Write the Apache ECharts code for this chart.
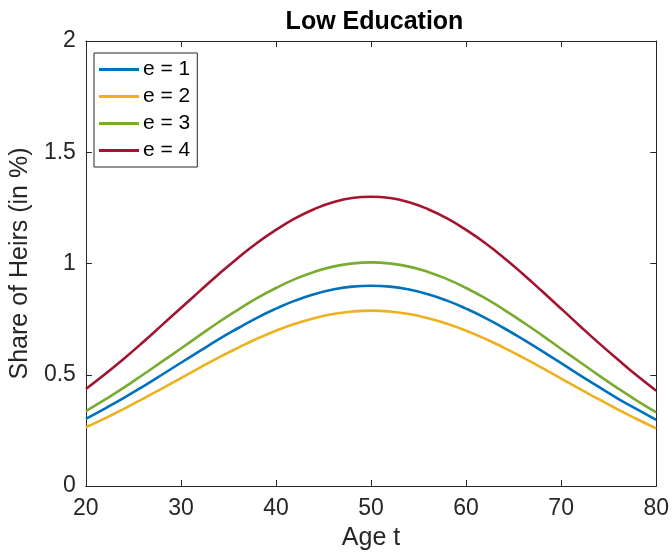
<!DOCTYPE html>
<html>
<head>
<meta charset="utf-8">
<script src="https://cdn.jsdelivr.net/npm/echarts@6/dist/echarts.min.js"></script>
<style>
  html, body { margin: 0; padding: 0; background: #fff; }
  #chart { width: 672px; height: 557px; }
</style>
</head>
<body>
<div id="chart"></div>
<script>
// values, every 2 years
const ages = [20, 22, 24, 26, 28, 30, 32, 34, 36, 38, 40, 42, 44, 46, 48, 50,
  52, 54, 56, 58, 60, 62, 64, 66, 68, 70, 72, 74, 76, 78, 80]

const e1 = [0.302, 0.348, 0.396, 0.447, 0.500, 0.554, 0.607, 0.660, 0.709, 0.756, 0.797, 0.833, 0.862, 0.883, 0.896, 0.900,
  0.896, 0.883, 0.862, 0.833, 0.797, 0.756, 0.709, 0.659, 0.606, 0.552, 0.497, 0.444, 0.392, 0.344, 0.297]
const e2 = [0.264, 0.304, 0.347, 0.392, 0.438, 0.485, 0.532, 0.578, 0.621, 0.662, 0.698, 0.729, 0.754, 0.773, 0.784, 0.788,
  0.784, 0.773, 0.754, 0.729, 0.698, 0.662, 0.621, 0.577, 0.531, 0.483, 0.435, 0.389, 0.343, 0.300, 0.259]
const e3 = [0.337, 0.388, 0.442, 0.500, 0.559, 0.618, 0.678, 0.737, 0.792, 0.844, 0.890, 0.930, 0.962, 0.986, 1.000, 1.005,
  1.000, 0.986, 0.962, 0.930, 0.890, 0.844, 0.792, 0.736, 0.677, 0.616, 0.556, 0.496, 0.438, 0.383, 0.331]
const e4 = [0.436, 0.502, 0.572, 0.646, 0.723, 0.800, 0.877, 0.953, 1.025, 1.092, 1.151, 1.203, 1.244, 1.275, 1.294, 1.300,
  1.294, 1.275, 1.244, 1.203, 1.151, 1.092, 1.025, 0.952, 0.875, 0.797, 0.718, 0.641, 0.567, 0.495, 0.428]

const seriesNames = ['e = 1', 'e = 2', 'e = 3', 'e = 4']
const seriesValues = [e1, e2, e3, e4]
const colors = ['#0072BD', '#EDB120', '#77AC30', '#A2142F']

const FONT = "'Liberation Sans', Arial, Helvetica, sans-serif"
const AXIS_COLOR = '#262626'

const chart = echarts.init(document.getElementById('chart'))

// box around the plot, MATLAB style: ticks inside on all four sides
const frameAxis = {
  min: 20, max: 80, interval: 10,
  axisLine: { show: true, onZero: false, lineStyle: { color: AXIS_COLOR, width: 1 } },
  axisTick: { show: true, inside: true, length: 6, lineStyle: { color: AXIS_COLOR } },
  splitLine: { show: false },
}

chart.setOption({
  animation: false,
  backgroundColor: '#fff',
  title: {
    text: 'Low Education',
    left: 369.5,
    textAlign: 'center',
    top: 5,
    textStyle: { fontFamily: FONT, fontSize: 25, fontWeight: 'bold', color: '#000' },
  },
  legend: {
    orient: 'vertical',
    left: 94,
    top: 53,
    padding: [6, 7, 6, 5],
    itemGap: 6,
    itemWidth: 40,
    itemHeight: 3,
    icon: 'rect',
    borderColor: AXIS_COLOR,
    borderWidth: 1,
    backgroundColor: '#fff',
    textStyle: { fontFamily: FONT, fontSize: 21, color: '#000', padding: [0, 0, 0, -1] },
    data: seriesNames,
  },
  grid: { left: 81, right: 14, top: 41, bottom: 71, containLabel: false },
  xAxis: [
    {
      ...frameAxis,
      type: 'value',
      position: 'bottom',
      name: 'Age t',
      nameLocation: 'middle',
      nameGap: 40,
      nameTextStyle: { fontFamily: FONT, fontSize: 25, color: AXIS_COLOR },
      axisLabel: { fontFamily: FONT, fontSize: 23, color: AXIS_COLOR, margin: 11 },
    },
    {
      ...frameAxis,
      type: 'value',
      position: 'top',
      axisLabel: { show: false },
    },
  ],
  yAxis: [
    {
      ...frameAxis,
      type: 'value',
      min: 0, max: 2, interval: 0.5,
      position: 'left',
      name: 'Share of Heirs (in %)',
      nameLocation: 'middle',
      nameGap: 48,
      nameTextStyle: { fontFamily: FONT, fontSize: 25, color: AXIS_COLOR },
      axisLabel: { fontFamily: FONT, fontSize: 23, color: AXIS_COLOR, margin: 10 },
    },
    {
      ...frameAxis,
      type: 'value',
      min: 0, max: 2, interval: 0.5,
      position: 'right',
      axisLabel: { show: false },
    },
  ],
  series: seriesNames.map((name, i) => ({
    name,
    type: 'line',
    xAxisIndex: 0,
    yAxisIndex: 0,
    data: ages.map((a, j) => [a, seriesValues[i][j]]),
    smooth: true,
    showSymbol: false,
    color: colors[i],
    lineStyle: { width: 2.6, color: colors[i] },
  })),
})
</script>
</body>
</html>
